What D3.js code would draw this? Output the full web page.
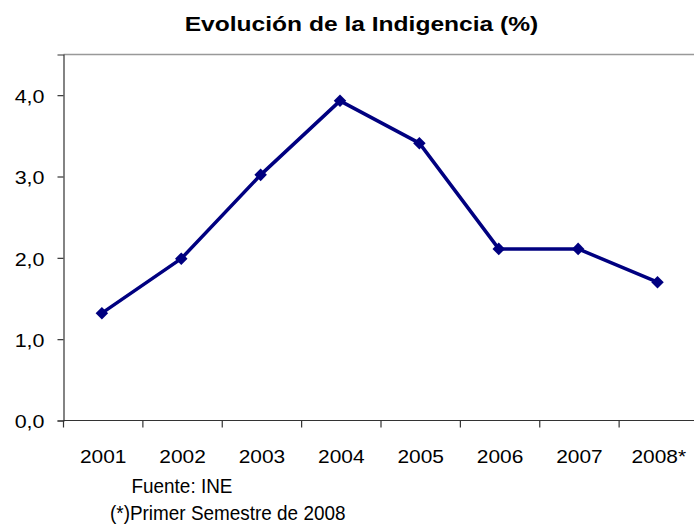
<!DOCTYPE html>
<html>
<head>
<meta charset="utf-8">
<script src="https://cdn.jsdelivr.net/npm/d3@7"></script>
<style>
  body { margin: 0; background: #fff; }
  svg { display: block; font-family: "Liberation Sans", Arial, sans-serif; }
</style>
</head>
<body>
<svg id="chart" width="694" height="526"></svg>
<script>
// data
const years = ["2001", "2002", "2003", "2004", "2005", "2006", "2007", "2008*"];
const indigencia = [1.32, 1.99, 3.02, 3.93, 3.41, 2.11, 2.11, 1.70];
const yTicks = [0, 1, 2, 3, 4];
const titleText = "Evolución de la Indigencia (%)";
const notes = ["Fuente: INE", "(*)Primer Semestre de 2008"];

const svg = d3.select("#chart");
const plotL = 63.5, plotR = 698.5, plotT = 54.5, plotB = 420.5;

const x = d3.scaleBand().domain(years).range([plotL, plotR]).paddingInner(0).paddingOuter(0);
const y = d3.scaleLinear().domain([0, 4.5]).range([plotB, plotT]);

// stretch helper: old excel export is a bit wider than the font
function stretch(sel, k){
    sel.each(function(){
        const len = this.getComputedTextLength();
        d3.select(this).attr("textLength", len * k).attr("lengthAdjust", "spacingAndGlyphs");
    });
}

// title
svg.append("text")
    .attr("x", 361.5).attr("y", 31)
    .attr("text-anchor", "middle")
    .attr("font-size", 21).attr("font-weight", "bold")
    .attr("fill", "#000")
    .text(titleText)
    .call(stretch, 1.17);

// top border of the plot area
svg.append("line")
    .attr("x1", plotL).attr("x2", 694)
    .attr("y1", plotT).attr("y2", plotT)
    .attr("stroke", "#999").attr("stroke-width", 1.5);

// y axis
const yAxis = svg.append("g")
    .attr("transform", `translate(${plotL},0)`)
    .call(d3.axisLeft(y).tickValues(yTicks).tickSize(6).tickPadding(13)
        .tickFormat(d => d3.format(".1f")(d).replace(".", ",")));
yAxis.select(".domain").attr("stroke", "#333").attr("stroke-width", 1.2);
yAxis.selectAll(".tick line").attr("stroke", "#333").attr("stroke-width", 1.2);
yAxis.selectAll("text")
    .attr("font-size", 19).attr("fill", "#000").attr("dy", "0.38em")
    .call(stretch, 1.13);

// x axis: labels centred in bands, ticks at band edges
const xAxis = svg.append("g")
    .attr("transform", `translate(0,${plotB})`)
    .call(d3.axisBottom(x).tickSize(0).tickPadding(29));
xAxis.select(".domain").remove();
xAxis.selectAll("text")
    .attr("font-size", 19).attr("fill", "#000").attr("dy", 0).attr("y", 42)
    .call(stretch, 1.1);

svg.append("line")
    .attr("x1", plotL).attr("x2", 694)
    .attr("y1", plotB).attr("y2", plotB)
    .attr("stroke", "#333").attr("stroke-width", 1.2);

svg.selectAll("line.xtick")
    .data(years)
    .join("line")
    .attr("class", "xtick")
    .attr("x1", d => x(d)).attr("x2", d => x(d))
    .attr("y1", plotB).attr("y2", plotB + 7)
    .attr("stroke", "#333").attr("stroke-width", 1.2);

// series
const pts = years.map((d, i) => ({ year: d, value: indigencia[i] }));
const cx = d => x(d.year) + x.bandwidth() / 2 - 1.3;

svg.append("path")
    .datum(pts)
    .attr("fill", "none")
    .attr("stroke", "#000080")
    .attr("stroke-width", 3.5)
    .attr("stroke-linejoin", "round")
    .attr("d", d3.line().x(cx).y(d => y(d.value)));

svg.selectAll("path.marker")
    .data(pts)
    .join("path")
    .attr("class", "marker")
    .attr("transform", d => `translate(${cx(d)},${y(d.value)})`)
    .attr("d", d3.symbol(d3.symbolDiamond2, 100))
    .attr("fill", "#000080");

// footnotes
svg.selectAll("text.note")
    .data(notes)
    .join("text")
    .attr("class", "note")
    .attr("x", (d, i) => i === 0 ? 131.5 : 110)
    .attr("y", (d, i) => i === 0 ? 493 : 520)
    .attr("font-size", 19.5)
    .attr("fill", "#000")
    .text(d => d)
    .call(stretch, 0.97);
</script>
</body>
</html>
